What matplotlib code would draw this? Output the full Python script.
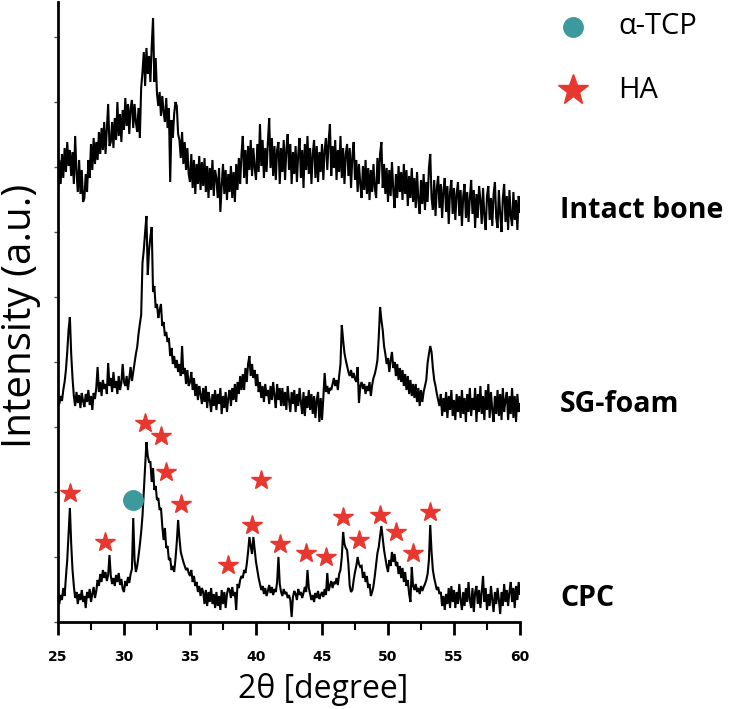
import numpy as np
import matplotlib
matplotlib.use("Agg")
import matplotlib.pyplot as plt
from matplotlib.lines import Line2D

# ---------------- data ----------------
two_theta = np.linspace(25.0, 60.0, 351)  # 0.1 degree sampling grid

cpc = [
    30, 18, 27, 22, 34, 26, 45, 62, 88, 114,
    78, 52, 36, 24, 30, 18, 28, 22, 32, 20,
    26, 14, 30, 24, 33, 20, 28, 35, 24, 31,
    42, 36, 48, 40, 52, 44, 50, 41, 47, 67,
    46, 38, 44, 36, 47, 40, 49, 37, 43, 33,
    30, 41, 36, 45, 39, 48, 53, 104, 62, 50,
    56, 66, 77, 90, 106, 130, 152, 180, 166, 160,
    160, 140, 154, 132, 136, 122, 124, 112, 114, 96,
    82, 94, 74, 76, 62, 64, 52, 56, 50, 63,
    80, 102, 84, 70, 65, 60, 56, 52, 54, 49,
    46, 52, 40, 46, 36, 40, 30, 36, 26, 34,
    30, 18, 32, 16, 30, 20, 34, 18, 28, 14,
    30, 16, 26, 12, 32, 18, 30, 14, 28, 34,
    32, 24, 35, 26, 30, 12, 38, 34, 42, 46,
    44, 52, 49, 58, 70, 85, 76, 68, 85, 72,
    60, 52, 44, 38, 32, 36, 28, 34, 26, 31,
    37, 29, 35, 27, 33, 30, 40, 65, 38, 30,
    26, 33, 28, 30, 24, 27, 22, 5, 25, 31,
    28, 22, 33, 27, 30, 24, 29, 35, 30, 52,
    34, 28, 22, 27, 20, 29, 24, 31, 23, 27,
    30, 25, 33, 27, 49, 31, 36, 41, 34, 40,
    38, 44, 37, 48, 52, 65, 90, 78, 74, 72,
    58, 36, 30, 32, 42, 50, 56, 65, 58, 55,
    56, 44, 50, 40, 46, 34, 38, 26, 30, 36,
    46, 58, 69, 75, 86, 96, 84, 72, 64, 56,
    50, 62, 56, 70, 60, 68, 56, 60, 48, 56,
    44, 54, 40, 50, 36, 42, 28, 20, 55, 36,
    32, 38, 30, 34, 28, 36, 31, 35, 38, 42,
    48, 62, 97, 70, 52, 44, 38, 32, 35, 28,
    30, 16, 26, 12, 28, 18, 34, 14, 36, 20,
    32, 14, 30, 18, 38, 22, 12, 30, 16, 34,
    20, 40, 22, 14, 34, 10, 30, 36, 18, 32,
    14, 30, 46, 20, 34, 12, 28, 16, 36, 22,
    10, 30, 18, 34, 22, 8, 30, 16, 38, 20,
    32, 16, 30, 40, 20, 34, 14, 36, 22, 40,
    28,
]

sg_foam = [
    228, 218, 226, 221, 232, 240, 252, 270, 292, 305,
    268, 244, 226, 216, 230, 219, 227, 214, 229, 221,
    215, 228, 220, 232, 217, 226, 212, 229, 223, 234,
    255, 230, 240, 226, 242, 233, 238, 228, 259, 236,
    244, 230, 250, 234, 241, 228, 246, 232, 239, 258,
    240, 236, 246, 232, 244, 255, 241, 250, 259, 268,
    275, 288, 298, 307, 359, 372, 390, 406, 347, 372,
    385, 395, 330, 336, 314, 318, 304, 312, 318, 296,
    300, 286, 290, 280, 284, 266, 274, 258, 266, 254,
    262, 250, 258, 246, 276, 248, 254, 238, 252, 236,
    240, 250, 232, 244, 226, 238, 222, 236, 228, 218,
    234, 220, 236, 214, 230, 222, 210, 228, 216, 232,
    212, 228, 218, 234, 208, 226, 214, 230, 210, 224,
    232, 216, 234, 222, 238, 220, 240, 228, 246, 232,
    248, 232, 254, 240, 258, 266, 246, 258, 244, 252,
    236, 248, 230, 240, 224, 236, 220, 238, 226, 232,
    218, 236, 222, 240, 226, 214, 238, 222, 234, 216,
    234, 216, 230, 212, 236, 222, 210, 230, 218, 232,
    210, 228, 216, 234, 220, 208, 230, 206, 226, 214,
    232, 212, 228, 208, 226, 204, 222, 230, 200, 224,
    202, 224, 249, 230, 236, 228, 234, 232, 238, 244,
    236, 242, 232, 246, 258, 297, 282, 269, 262, 256,
    250, 246, 252, 244, 249, 243, 240, 255, 219, 236,
    240, 233, 238, 228, 236, 231, 240, 226, 237, 244,
    248, 254, 262, 285, 315, 302, 292, 276, 268, 258,
    264, 250, 262, 270, 254, 260, 246, 258, 242, 254,
    240, 252, 236, 248, 232, 246, 228, 242, 226, 238,
    224, 238, 220, 234, 216, 232, 220, 230, 236, 242,
    259, 268, 276, 270, 254, 242, 236, 228, 222, 216,
    228, 206, 224, 210, 230, 204, 226, 212, 232, 206,
    222, 202, 228, 210, 226, 204, 232, 208, 224, 200,
    228, 210, 234, 206, 224, 212, 234, 200, 228, 210,
    236, 208, 226, 202, 232, 212, 238, 204, 230, 212,
    200, 226, 208, 232, 206, 228, 202, 234, 210, 222,
    230, 202, 226, 208, 234, 204, 226, 200, 228, 210,
    218,
]

intact_bone = [
    432, 462, 438, 468, 444, 474, 450, 480, 456, 472,
    446, 470, 438, 486, 450, 430, 462, 428, 452, 420,
    424, 448, 430, 462, 444, 478, 452, 484, 458, 480,
    462, 490, 468, 494, 472, 500, 468, 494, 518, 476,
    480, 500, 474, 504, 482, 520, 486, 508, 480, 512,
    492, 524, 496, 518, 488, 514, 522, 494, 518, 500,
    490, 514, 484, 534, 550, 570, 536, 574, 548, 566,
    540, 576, 604, 540, 564, 528, 516, 530, 506, 526,
    510, 500, 524, 494, 514, 440, 502, 484, 508, 520,
    516, 488, 482, 464, 490, 458, 480, 452, 474, 448,
    440, 468, 434, 462, 428, 458, 438, 466, 432, 460,
    436, 464, 430, 456, 424, 454, 432, 462, 426, 452,
    444, 424, 454, 410, 436, 458, 428, 452, 422, 448,
    430, 456, 424, 450, 420, 458, 432, 464, 438, 468,
    486, 444, 472, 438, 476, 452, 482, 446, 474, 454,
    442, 478, 450, 498, 456, 482, 444, 474, 450, 480,
    504, 454, 484, 446, 476, 442, 472, 480, 438, 474,
    450, 482, 442, 472, 488, 452, 478, 438, 470, 448,
    476, 440, 468, 484, 444, 472, 434, 478, 452, 486,
    448, 474, 438, 468, 482, 444, 476, 440, 470, 450,
    478, 442, 472, 484, 452, 480, 498, 446, 476, 454,
    482, 442, 472, 450, 486, 444, 474, 438, 468, 478,
    446, 474, 434, 466, 480, 442, 462, 430, 458, 438,
    424, 456, 432, 462, 428, 454, 422, 452, 430, 458,
    434, 424, 464, 438, 468, 480, 434, 458, 428, 454,
    420, 452, 426, 460, 432, 414, 448, 424, 456, 430,
    450, 422, 458, 428, 452, 416, 446, 424, 454, 420,
    444, 414, 450, 422, 408, 442, 418, 448, 412, 440,
    420, 454, 468, 424, 412, 442, 406, 434, 446, 414,
    438, 404, 432, 444, 410, 436, 398, 430, 442, 408,
    434, 402, 428, 440, 406, 432, 396, 426, 438, 404,
    430, 400, 424, 442, 408, 432, 394, 428, 404, 436,
    422, 398, 434, 406, 392, 426, 436, 402, 424, 396,
    428, 440, 404, 394, 432, 408, 390, 424, 438, 400,
    426, 392, 432, 406, 396, 430, 402, 422, 392, 426,
    410,
]

sample_names = ["Intact bone", "SG-foam", "CPC"]

ha_x = [25.9, 28.56, 31.6, 32.8, 33.2, 34.3, 37.85, 39.7, 40.35, 41.8,
        43.8, 45.3, 46.6, 47.8, 49.4, 50.6, 51.9, 53.2]
ha_y = [129, 80, 199, 186, 150, 118, 57, 97, 142, 78,
        69, 65, 105, 82, 107, 90, 69, 110]
tcp_x = [30.7]
tcp_y = [122]

phase_labels = ["\u03b1-TCP", "HA"]
x_ticks = [25, 30, 35, 40, 45, 50, 55, 60]

# ---------------- style ----------------
FONT = ["Open Sans", "DejaVu Sans"]
RED = "#e8372e"
TEAL = "#3c9a9c"

W, H = 731, 709
fig = plt.figure(figsize=(W / 100, H / 100), dpi=100)
ax = fig.add_axes([58 / W, 1 - 622 / H, (520 - 58) / W, (622 - 2) / H])

for series in (intact_bone, sg_foam, cpc):
    ax.plot(two_theta, series, color="black", lw=1.5, solid_joinstyle="miter")

ax.plot(ha_x, ha_y, ls="none", marker="*", ms=15, color=RED, mec=RED)
ax.plot(tcp_x, tcp_y, ls="none", marker="o", ms=14, color=TEAL, mec=TEAL)

ax.set_xlim(25, 60)
ax.set_ylim(0, 620)
for s in ("top", "right"):
    ax.spines[s].set_visible(False)
for s in ("left", "bottom"):
    ax.spines[s].set_linewidth(2)
ax.set_xticks(x_ticks)
ax.set_xticks([27.5, 32.5, 37.5, 42.5, 47.5, 52.5, 57.5], minor=True)
ax.tick_params(axis="x", which="major", length=9, width=2, direction="out", pad=11,
               labelsize=10)
ax.tick_params(axis="x", which="minor", length=6, width=1.5, direction="out")
for lab in ax.get_xticklabels():
    lab.set_fontweight("bold")
    lab.set_family(["DejaVu Sans"])
ax.set_yticks([0, 65, 130, 195, 260, 325, 390, 455, 520, 585])
ax.tick_params(axis="y", which="major", length=3, width=1, labelleft=False,
               color="#555555")

# axis titles
fig.text(323 / W, 1 - 690 / H, "2\u03b8 [degree]", fontsize=23, family=FONT,
         ha="center", va="center")
fig.text(21 / W, 1 - 316 / H, "Intensity (a.u.)", fontsize=29, family=FONT,
         ha="center", va="center", rotation=90)

# sample labels at the right end of each trace
label_pos = [(560, 210), (560, 405), (560, 598)]
for name, (px, py) in zip(sample_names, label_pos):
    fig.text(px / W, 1 - py / H, name, fontsize=20.5, fontweight="bold",
             family=FONT, ha="left", va="center")

# legend
fig.add_artist(Line2D([573 / W], [1 - 27 / H], marker="o", ms=14, color=TEAL,
                      ls="none", transform=fig.transFigure))
fig.add_artist(Line2D([573 / W], [1 - 90 / H], marker="*", ms=23, color=RED,
                      ls="none", transform=fig.transFigure))
fig.text(618 / W, 1 - 27 / H, phase_labels[0], fontsize=21, family=FONT,
         ha="left", va="center")
fig.text(618 / W, 1 - 90 / H, phase_labels[1], fontsize=21, family=FONT,
         ha="left", va="center")

fig.savefig("out.png", dpi=100)
